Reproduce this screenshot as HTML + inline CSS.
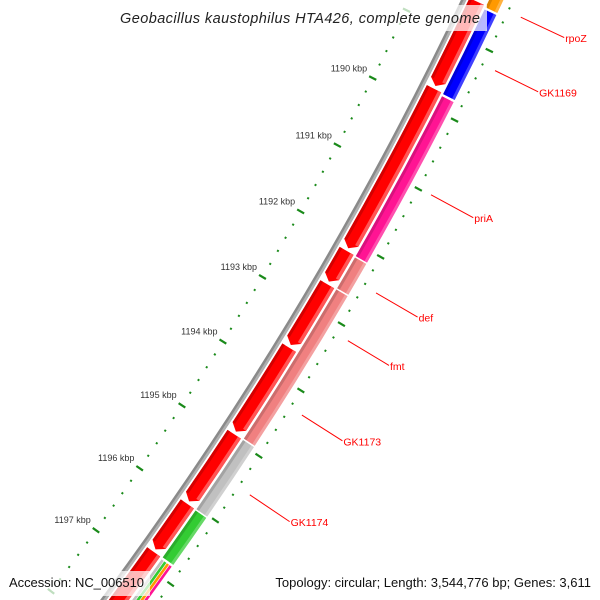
<!DOCTYPE html>
<html><head><meta charset="utf-8"><style>
html,body{margin:0;padding:0;background:#fff;width:600px;height:600px;overflow:hidden;}
svg{display:block;font-family:"Liberation Sans",sans-serif;overflow:hidden;}
</style></head><body>
<svg id="map" width="600" height="600" viewBox="0 0 600 600" xmlns="http://www.w3.org/2000/svg">
<defs><clipPath id="frame"><rect x="0" y="0" width="600" height="600"/></clipPath></defs>
<g id="rings" clip-path="url(#frame)"></g>
<g id="overlay">
<rect x="112" y="5" width="375" height="26" fill="#fff" opacity="0.72"/>
<text x="120" y="23" font-size="14.5" font-style="italic" fill="#222" textLength="360" lengthAdjust="spacing">Geobacillus kaustophilus HTA426, complete genome</text>
<rect x="4" y="571" width="146" height="25" fill="#fff" opacity="0.72"/>
<text x="9" y="587" font-size="13" fill="#111" textLength="135" lengthAdjust="spacing">Accession: NC_006510</text>
<text x="591" y="587" font-size="13" fill="#111" text-anchor="end">Topology: circular; Length: 3,544,776 bp; Genes: 3,611</text>
</g>
</svg>
<script>
// data (kbp)
const geneStarts = [1186.0, 1188.50, 1189.76, 1192.15, 1192.65, 1193.61, 1194.94, 1196.03, 1196.79];
const geneEnds   = [1188.46, 1189.72, 1192.11, 1192.61, 1193.57, 1194.90, 1195.99, 1196.75, 1199.5];
const blockStarts = [1186.0, 1188.08, 1188.55, 1189.80, 1192.17, 1192.65, 1194.94, 1196.04];
const blockEnds   = [1188.05, 1188.52, 1189.77, 1192.15, 1192.63, 1194.92, 1196.02, 1196.78];
const blockColors = ["#33ccff", "#ff9900", "#0000ff", "#ff1493", "#f08080", "#f08080", "#c0c0c0", "#33cc33"];
const stackColors = ["#c0c0c0", "#33cc33", "#ff9900", "#ff1493"];
const stackStart = 1196.81, stackEnd = 1199.5;
const labelNames = ["rpoZ", "GK1169", "priA", "def", "fmt", "GK1173", "GK1174"];
const labelPos   = [1188.44, 1189.20, 1190.99, 1192.43, 1193.14, 1194.26, 1195.48];
const tickLabels = [1190, 1191, 1192, 1193, 1194, 1195, 1196, 1197];
const tickMin = 1187, tickMax = 1199;

const NS = "http://www.w3.org/2000/svg";
const CX = -2763, CY = -1530;
const A0 = 27.15, DEG_PER_KBP = 1.2325;
function ang(kbp){ return (A0 + (kbp - 1190) * DEG_PER_KBP) * Math.PI / 180; }
function pt(r, kbp){ const a = ang(kbp); return [CX + r*Math.cos(a), CY + r*Math.sin(a)]; }
function f(p){ return p[0].toFixed(2)+","+p[1].toFixed(2); }
const root = document.getElementById("rings");
function mk(tag, attrs, parent){ const e = document.createElementNS(NS, tag); for (const k in attrs) e.setAttribute(k, attrs[k]); (parent||root).appendChild(e); return e; }
function band(r1, r2, s, e){
  return "M"+f(pt(r2,s))+" A"+r2+","+r2+" 0 0 1 "+f(pt(r2,e))+" L"+f(pt(r1,e))+" A"+r1+","+r1+" 0 0 0 "+f(pt(r1,s))+" Z";
}
function arrow(r1, r2, s, e){
  const b = Math.max(s, e - 0.08);
  return "M"+f(pt(r2,s))+" A"+r2+","+r2+" 0 0 1 "+f(pt(r2,b))+" L"+f(pt((r1+r2)/2,e))+" L"+f(pt(r1,b))+" A"+r1+","+r1+" 0 0 0 "+f(pt(r1,s))+" Z";
}

// backbone
let bb = mk("path", {d: band(3568.5, 3573.5, 1185, 1200), fill: "#8a8a8a"});


let bb2 = mk("path", {d: band(3571, 3573.5, 1185, 1200), fill: "#b0b0b0"});



// genes (forward strand)
const R1 = 3575.5, R2 = 3591.5;
for (let i = 0; i < geneStarts.length; i++){
  const g = mk("g", {});
  
  
  mk("path", {d: arrow(R1, R2, geneStarts[i], geneEnds[i]), fill: "#ff0000"}, g);
  const b = geneEnds[i] - 0.08;
  mk("path", {d: band(R1, R1+3, geneStarts[i], b), fill: "#d40000"}, g);
  mk("path", {d: band(R2-3.5, R2, geneStarts[i], b), fill: "#ff5555"}, g);
}

// COG blocks
const Q1 = 3594, Q2 = 3607;
for (let i = 0; i < blockStarts.length; i++){
  const g = mk("g", {});
  
  
  mk("path", {d: band(Q1, Q2, blockStarts[i], blockEnds[i]), fill: blockColors[i]}, g);
  mk("path", {d: band(Q1, Q1+3, blockStarts[i], blockEnds[i]), fill: "#000", opacity: 0.15}, g);
  mk("path", {d: band(Q2-3, Q2, blockStarts[i], blockEnds[i]), fill: "#fff", opacity: 0.25}, g);
}
const sh = (Q2 - Q1) / stackColors.length;
for (let j = 0; j < stackColors.length; j++){
  const p = mk("path", {d: band(Q1 + j*sh + 0.3, Q1 + (j+1)*sh - 0.3, stackStart, stackEnd), fill: stackColors[j]});
  
  
}

// tick rings
const nSteps = Math.round((tickMax - tickMin) / 0.2);
for (const ring of [3524, 3616]){
  for (let k = 0; k <= nSteps; k++){
    const v = tickMin + k*0.2;
    const major = Math.abs(v - Math.round(v)) < 1e-6;
    const h = major ? 4 : 1;
    const a = pt(ring - h, v), b = pt(ring + h, v);
    const l = mk("line", {x1: a[0], y1: a[1], x2: b[0], y2: b[1], stroke: "#1a8a1a", "stroke-width": major ? 2.2 : 2});
    
    
  }
}
for (const t of tickLabels){
  const p = pt(3520, t);
  const tx = mk("text", {x: (p[0]-2).toFixed(1), y: (p[1]-5).toFixed(1), "font-size": 9, fill: "#333", "text-anchor": "end"});
  tx.textContent = t + " kbp";
  
  
}

// gene labels
for (let i = 0; i < labelNames.length; i++){
  const a = pt(3630, labelPos[i]), b = pt(3678, labelPos[i]);
  const ln = mk("line", {x1: a[0], y1: a[1], x2: b[0], y2: b[1], stroke: "#ff0000", "stroke-width": 1});
  
  
  const tx = mk("text", {x: (b[0]+1).toFixed(1), y: (b[1]+4.5).toFixed(1), "font-size": 10.5, fill: "#ff0000"});
  tx.textContent = labelNames[i];
  
  
}
</script>
</body></html>
